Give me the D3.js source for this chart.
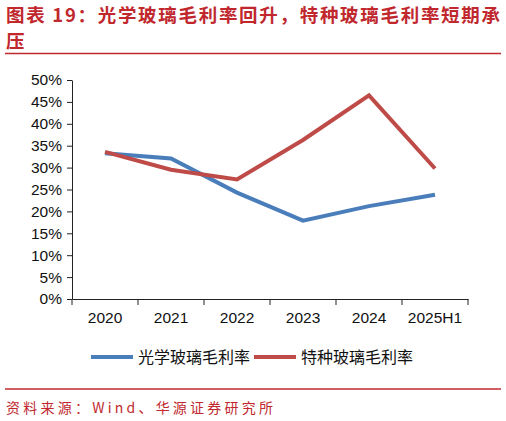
<!DOCTYPE html>
<html>
<head>
<meta charset="utf-8">
<script src="https://cdn.jsdelivr.net/npm/d3@7"></script>
<style>
  body { margin: 0; background: #fff; }
  svg { display: block; }
</style>
</head>
<body>
<svg width="506" height="421"></svg>
<script>
const categories = ["2020", "2021", "2022", "2023", "2024", "2025H1"];
const opticalMargin = [33.3, 32.1, 24.3, 17.9, 21.2, 23.8];
const specialMargin = [33.6, 29.5, 27.3, 36.3, 46.5, 29.8];
const seriesNames = ["光学玻璃毛利率", "特种玻璃毛利率"];
const yTicks = [0, 5, 10, 15, 20, 25, 30, 35, 40, 45, 50];

const width = 506, height = 421;
const margin = {top: 80, right: 38, bottom: 122, left: 72};
const plotWidth = width - margin.left - margin.right,
      plotHeight = height - margin.top - margin.bottom;

const titleColor = "#c0282e";
const blue = "#4a7ebb", red = "#be4b48";
const titleFont = "'Noto Sans CJK SC', sans-serif";
const axisFont = "'Liberation Sans', Arial, sans-serif";

const svg = d3.select("svg");

// Title (two lines, as in the report)
svg.append("text")
    .attr("x", 6).attr("y", 22)
    .attr("fill", titleColor)
    .attr("font-family", titleFont)
    .attr("font-weight", "bold")
    .attr("font-size", "18.5px")
    .attr("textLength", 494)
    .text("图表 19：光学玻璃毛利率回升，特种玻璃毛利率短期承");
svg.append("text")
    .attr("x", 6).attr("y", 48)
    .attr("fill", titleColor)
    .attr("font-family", titleFont)
    .attr("font-weight", "bold")
    .attr("font-size", "18.5px")
    .text("压");

svg.append("line")
    .attr("x1", 5).attr("x2", 501)
    .attr("y1", 53.5).attr("y2", 53.5)
    .attr("stroke", titleColor).attr("stroke-width", 1.5);

const g = svg.append("g")
    .attr("transform", `translate(${margin.left}, ${margin.top})`);

// X scale
const x = d3.scaleBand()
    .domain(categories)
    .range([0, plotWidth]);

// Y scale
const y = d3.scaleLinear()
    .domain([0, 50])
    .range([plotHeight, 0]);

const yAxis = g.append("g")
    .call(d3.axisLeft(y).tickValues(yTicks).tickSize(5).tickSizeOuter(0).tickFormat(d => d + "%"));

const xAxis = g.append("g")
    .attr("transform", `translate(0, ${plotHeight})`)
    .call(d3.axisBottom(x).tickSize(0).tickSizeOuter(0));

// tick marks sit on the category boundaries
xAxis.selectAll(".bound")
    .data(d3.range(categories.length + 1))
    .enter().append("line")
    .attr("class", "bound")
    .attr("x1", i => i * x.step()).attr("x2", i => i * x.step())
    .attr("y1", 0).attr("y2", 6)
    .attr("stroke", "#222");

[yAxis, xAxis].forEach(a => {
  a.selectAll(".domain").attr("stroke", "#222");
  a.selectAll(".tick line").attr("stroke", "#222");
  a.selectAll("text")
    .attr("font-family", axisFont)
    .attr("font-size", "15.5px")
    .attr("fill", "#111");
});
yAxis.selectAll("text").attr("x", -10);
xAxis.selectAll("text").attr("y", 13);

// Lines
const line = d3.line()
    .x((d, i) => x(categories[i]) + x.bandwidth() / 2)
    .y(d => y(d));

[[opticalMargin, blue], [specialMargin, red]].forEach(([vals, color]) => {
  g.append("path")
    .datum(vals)
    .attr("d", line)
    .attr("fill", "none")
    .attr("stroke", color)
    .attr("stroke-width", 4);
});

// Legend
const legend = svg.append("g").attr("transform", "translate(91, 357)");
const legendX = [0, 163];
seriesNames.forEach((name, i) => {
  const item = legend.append("g").attr("transform", `translate(${legendX[i]}, 0)`);
  item.append("line")
    .attr("x1", 0).attr("x2", 42)
    .attr("y1", 0).attr("y2", 0)
    .attr("stroke", i === 0 ? blue : red)
    .attr("stroke-width", 4);
  item.append("text")
    .attr("x", 47).attr("y", 5.5)
    .attr("font-family", titleFont)
    .attr("font-size", "16px")
    .attr("fill", "#111")
    .text(name);
});

// Source
svg.append("line")
    .attr("x1", 5).attr("x2", 501)
    .attr("y1", 389).attr("y2", 389)
    .attr("stroke", titleColor).attr("stroke-width", 1.5);

svg.append("text")
    .attr("x", 6).attr("y", 413)
    .attr("fill", titleColor)
    .attr("font-family", "'Noto Sans CJK SC', sans-serif")
    .attr("font-size", "14px")
    .attr("textLength", 267)
    .text("资料来源：Wind、华源证券研究所");
</script>
</body>
</html>
